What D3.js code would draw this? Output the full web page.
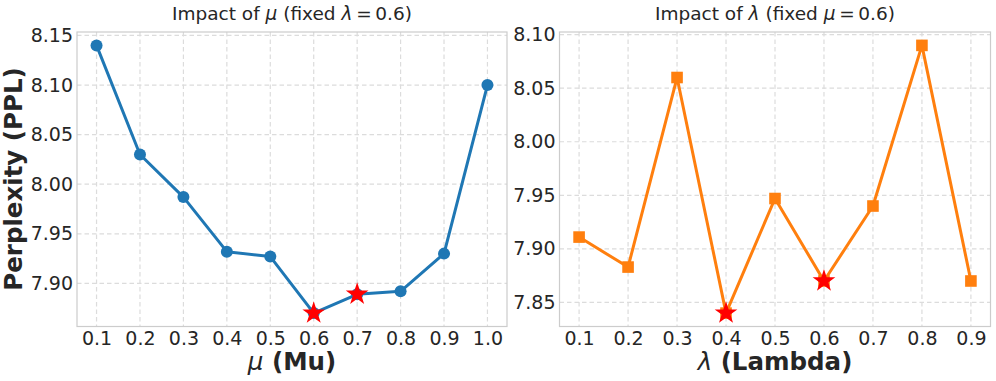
<!DOCTYPE html>
<html>
<head>
<meta charset="utf-8">
<script src="https://cdn.jsdelivr.net/npm/d3@7"></script>
<style>
  body { margin: 0; background: #fff; }
  text { font-family: "DejaVu Sans", sans-serif; fill: #262626; }
</style>
</head>
<body>
<div id="chart"></div>
<script>
// data
var muValues = [0.1, 0.2, 0.3, 0.4, 0.5, 0.6, 0.7, 0.8, 0.9, 1.0];
var muPPL = [8.14, 8.03, 7.987, 7.932, 7.927, 7.87, 7.889, 7.892, 7.930, 8.10];
var muBest = [0.6, 0.7];

var lambdaValues = [0.1, 0.2, 0.3, 0.4, 0.5, 0.6, 0.7, 0.8, 0.9];
var lambdaPPL = [7.911, 7.883, 8.06, 7.84, 7.947, 7.87, 7.94, 8.09, 7.87];
var lambdaBest = [0.4, 0.6];

var muYTicks = [7.90, 7.95, 8.00, 8.05, 8.10, 8.15];
var lambdaYTicks = [7.85, 7.90, 7.95, 8.00, 8.05, 8.10];

var W = 996, H = 381;

var svg = d3.select("#chart").append("svg")
    .attr("width", W)
    .attr("height", H);

function panel(opts) {
    var x0 = opts.left, x1 = opts.right, y0 = 32, y1 = 326.5;

    // matplotlib-like 5% margins
    var xs = d3.extent(opts.xs), ys = d3.extent(opts.ys);
    var xm = (xs[1] - xs[0]) * 0.05, ym = (ys[1] - ys[0]) * 0.05;
    var x = d3.scaleLinear().domain([xs[0] - xm, xs[1] + xm]).range([x0, x1]);
    var y = d3.scaleLinear().domain([ys[0] - ym, ys[1] + ym]).range([y1, y0]);

    var g = svg.append("g");

    // grid
    g.append("g").selectAll("line").data(opts.xs).join("line")
        .attr("x1", d => x(d)).attr("x2", d => x(d))
        .attr("y1", y0).attr("y2", y1)
        .attr("stroke", "#dcdcdc").attr("stroke-width", 1.2)
        .attr("stroke-dasharray", "4.5,3");
    g.append("g").selectAll("line").data(opts.yTicks).join("line")
        .attr("x1", x0).attr("x2", x1)
        .attr("y1", d => y(d)).attr("y2", d => y(d))
        .attr("stroke", "#dcdcdc").attr("stroke-width", 1.2)
        .attr("stroke-dasharray", "4.5,3");

    // frame
    g.append("rect")
        .attr("x", x0).attr("y", y0)
        .attr("width", x1 - x0).attr("height", y1 - y0)
        .attr("fill", "none").attr("stroke", "#cccccc").attr("stroke-width", 1.2);

    // axes (labels only, no tick marks)
    var xAxis = g.append("g")
        .attr("transform", "translate(0," + y1 + ")")
        .call(d3.axisBottom(x).tickValues(opts.xs).tickFormat(d3.format(".1f")).tickSize(0).tickPadding(5));
    var yAxis = g.append("g")
        .attr("transform", "translate(" + x0 + ",0)")
        .call(d3.axisLeft(y).tickValues(opts.yTicks).tickFormat(d3.format(".2f")).tickSize(0).tickPadding(4));
    [xAxis, yAxis].forEach(function(a) {
        a.select(".domain").remove();
        a.selectAll("text")
            .style("font-family", "'DejaVu Sans', sans-serif")
            .style("font-size", "19px")
            .attr("fill", "#262626");
    });

    var pts = opts.xs.map((d, i) => ({x: d, y: opts.ys[i]}));

    var line = d3.line().x(d => x(d.x)).y(d => y(d.y));
    g.append("path")
        .attr("d", line(pts))
        .attr("fill", "none")
        .attr("stroke", opts.color)
        .attr("stroke-width", 3)
        .attr("stroke-linejoin", "round");

    if (opts.marker == "circle") {
        g.append("g").selectAll("circle").data(pts).join("circle")
            .attr("cx", d => x(d.x)).attr("cy", d => y(d.y))
            .attr("r", 6)
            .attr("fill", opts.color);
    } else {
        var s = 11.6;
        g.append("g").selectAll("rect").data(pts).join("rect")
            .attr("x", d => x(d.x) - s / 2).attr("y", d => y(d.y) - s / 2)
            .attr("width", s).attr("height", s)
            .attr("fill", opts.color);
    }

    // best points
    var star = d3.symbol().type(d3.symbolStar).size(160);
    g.append("g").selectAll("path").data(pts.filter(d => opts.best.includes(d.x))).join("path")
        .attr("d", star)
        .attr("transform", d => "translate(" + x(d.x) + "," + y(d.y) + ")")
        .attr("fill", "#ff0000");

    // title
    var t = g.append("text")
        .attr("x", (x0 + x1) / 2).attr("y", 20)
        .attr("text-anchor", "middle")
        .style("font-size", "18.5px")
        .attr("xml:space", "preserve");
    t.append("tspan").text("Impact of ");
    t.append("tspan").style("font-style", "italic").text(opts.sym1);
    t.append("tspan").text(" (fixed ");
    t.append("tspan").style("font-style", "italic").text(opts.sym2);
    t.append("tspan").text("\u2009=\u20090.6)");

    // x label
    var xl = g.append("text")
        .attr("x", (x0 + x1) / 2).attr("y", 370)
        .attr("text-anchor", "middle")
        .style("font-size", "24.5px");
    xl.append("tspan").style("font-style", "italic").text(opts.sym1);
    xl.append("tspan").style("font-weight", "bold").text(" (" + opts.name + ")");

    return g;
}

panel({left: 77, right: 507, xs: muValues, ys: muPPL, yTicks: muYTicks, best: muBest,
       color: "#1f77b4", marker: "circle", sym1: "μ", sym2: "λ", name: "Mu"});
panel({left: 559.5, right: 990.5, xs: lambdaValues, ys: lambdaPPL, yTicks: lambdaYTicks, best: lambdaBest,
       color: "#ff7f0e", marker: "square", sym1: "λ", sym2: "μ", name: "Lambda"});

// shared y label
svg.append("text")
    .attr("transform", "translate(22," + 179 + ") rotate(-90)")
    .attr("text-anchor", "middle")
    .style("font-size", "24.5px")
    .style("font-weight", "bold")
    .text("Perplexity (PPL)");
</script>
</body>
</html>
